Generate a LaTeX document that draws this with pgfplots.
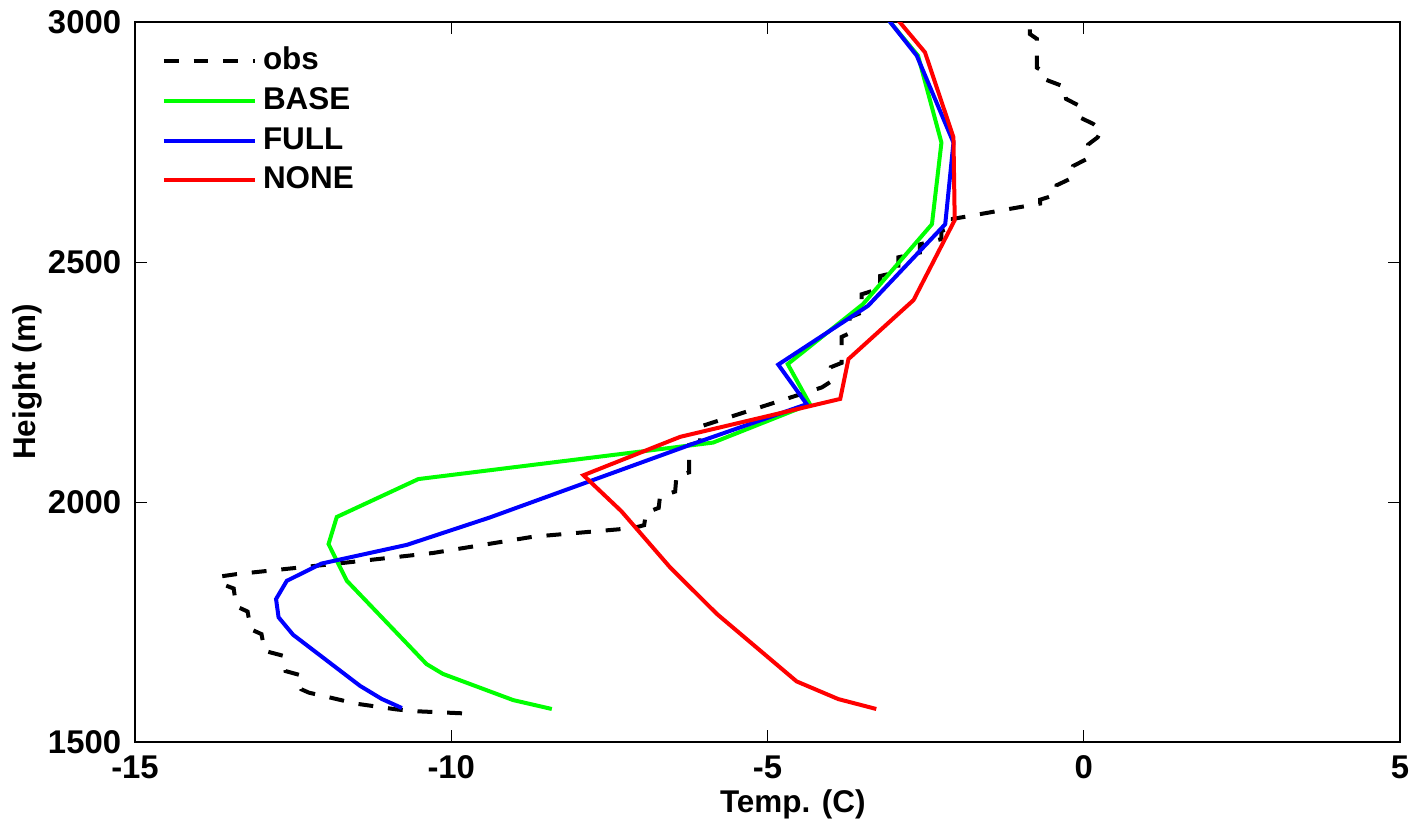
\documentclass[border=0pt]{standalone}
\usepackage{fontspec}
\setmainfont{Liberation Sans}
\usepackage{pgfplots}
\pgfplotsset{compat=1.18}
\begin{document}
\fontsize{11pt}{13pt}\selectfont\bfseries
\begin{tikzpicture}
\begin{axis}[
  name=ax,
  scale only axis,
  width=442.75pt, height=252pt,
  xmin=-15, xmax=5, ymin=1500, ymax=3000,
  xtick={-15,-10,-5,0,5},
  ytick={1500,2000,2500,3000},
  tick align=inside,
  major tick length=4.2pt,
  tick style={black, line width=0.35pt},
  axis line style={black, line width=0.7pt},
  /pgf/number format/assume math mode=true,
  /pgf/number format/1000 sep={},
  tick label style={font=\fontsize{11.5pt}{13pt}\selectfont\bfseries},
  xticklabel style={yshift=-1pt},
  yticklabel style={xshift=-1pt},
  xlabel={Temp. (C)},
  ylabel={Height (m)},
  label style={font=\fontsize{11pt}{13pt}\selectfont\bfseries},
  xlabel style={at={(axis description cs:0.52,-0.086)}, anchor=center},
  ylabel style={at={(axis description cs:-0.085,0.5)}, anchor=center},
  clip=true,
  legend style={at={(0.014,0.982)}, anchor=north west, draw=none, fill=none,
    font=\fontsize{11pt}{13pt}\selectfont\bfseries, row sep=0.6pt,
    /tikz/every even column/.append style={column sep=3.5pt}},
  legend cell align=left,
  legend image code/.code={\draw[#1] (0pt,0pt) -- (32pt,0pt);},
]
\addplot[black, line width=1.4pt, dash pattern=on 5.2pt off 5.2pt] coordinates {
(-9.83,1560) (-10.60,1564.6) (-10.86,1568) (-11.50,1580) (-11.92,1593) (-12.25,1603)
(-12.37,1610) (-12.40,1640) (-12.62,1648) (-12.66,1680) (-12.95,1690) (-13.00,1725)
(-13.17,1735) (-13.22,1772) (-13.40,1783) (-13.44,1820) (-13.62,1829) (-13.66,1845)
(-13.39,1850) (-11.80,1872) (-10.29,1894) (-8.70,1928) (-7.12,1946)
(-6.95,1952) (-6.92,1978) (-6.72,1988) (-6.70,2012) (-6.46,2022) (-6.44,2054)
(-6.24,2062) (-6.24,2119) (-6.07,2125) (-6.05,2158)
(-4.14,2239) (-4.01,2250) (-4.00,2281) (-3.83,2290) (-3.83,2344)
(-3.70,2352) (-3.70,2385) (-3.51,2395) (-3.51,2433) (-3.22,2445) (-3.22,2471)
(-2.93,2480) (-2.93,2510) (-2.59,2520) (-2.59,2537) (-2.25,2548) (-2.25,2565)
(-2.07,2572) (-2.07,2590) (-1.38,2606) (-0.69,2622) (-0.69,2630)
(-0.45,2640) (-0.43,2660) (-0.19,2675) (-0.17,2700) (0.05,2715) (0.07,2745)
(0.22,2760) (0.28,2775) (0.15,2788) (-0.04,2800) (-0.06,2825) (-0.28,2840)
(-0.30,2865) (-0.60,2880) (-0.61,2895) (-0.74,2905) (-0.74,2965) (-0.85,2975)
(-0.85,2996) (-0.93,3000) (-0.95,3010)
};
\addlegendentry{obs}
\addplot[color={rgb,1:red,0;green,1;blue,0}, line width=1.4pt] coordinates {
(-8.41,1569) (-9.02,1587.5) (-10.13,1642) (-10.39,1662.5) (-11.65,1836)
(-11.94,1912.5) (-11.81,1969) (-10.52,2048) (-5.86,2124) (-4.33,2204)
(-4.68,2287.5) (-3.49,2412.5) (-2.40,2579) (-2.25,2749) (-2.62,2930) (-3.06,3000) (-3.12,3010)
};
\addlegendentry{BASE}
\addplot[color={rgb,1:red,0;green,0;blue,1}, line width=1.4pt] coordinates {
(-10.78,1571) (-11.10,1590) (-11.44,1617) (-12.50,1723.6) (-12.73,1760)
(-12.77,1798) (-12.60,1836) (-12.05,1872) (-10.70,1911) (-9.39,1968)
(-6.23,2119) (-4.38,2204) (-4.83,2286.5) (-3.41,2409) (-2.19,2579)
(-2.06,2749) (-2.64,2930) (-3.06,3000) (-3.12,3010)
};
\addlegendentry{FULL}
\addplot[color={rgb,1:red,1;green,0;blue,0}, line width=1.4pt] coordinates {
(-3.28,1569) (-3.88,1589.6) (-4.54,1626.5) (-5.80,1767) (-6.54,1864)
(-7.31,1981) (-7.91,2056) (-6.38,2136) (-3.85,2215) (-3.72,2298)
(-2.69,2421) (-2.04,2587.5) (-2.06,2760) (-2.51,2937) (-2.91,3000) (-2.97,3010)
};
\addlegendentry{NONE}
\end{axis}
\path (ax.south west) ++(-47.25pt,-30.45pt) rectangle ([shift={(8.4pt,6.3pt)}]ax.north east);
\end{tikzpicture}
\end{document}
